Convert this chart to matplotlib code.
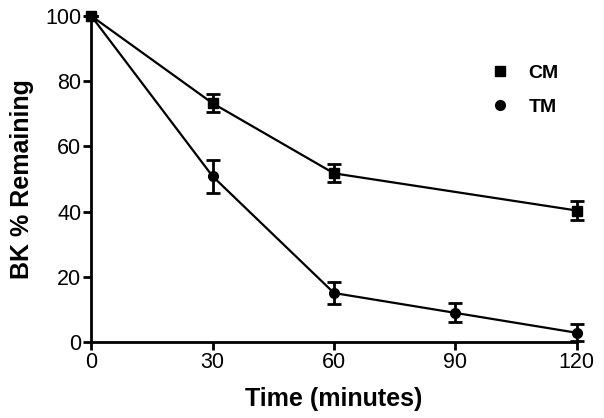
import matplotlib
matplotlib.use("Agg")
import matplotlib.pyplot as plt
from matplotlib.lines import Line2D

plt.rcParams['font.family'] = ['Liberation Sans', 'DejaVu Sans']

cm_t = [0, 30, 60, 120]
cm_y = [100, 73.2, 51.7, 40.3]
cm_e = [0, 2.7, 2.8, 2.8]

tm_t = [0, 30, 60, 90, 120]
tm_y = [100, 50.8, 15.0, 8.9, 2.8]
tm_e = [0, 5.0, 3.3, 2.9, 2.6]

xticks = [0, 30, 60, 90, 120]
yticks = [0, 20, 40, 60, 80, 100]

fig = plt.figure(figsize=(6.04, 4.18), dpi=100)
ax = fig.add_axes([0.151, 0.182, 0.804, 0.780])

ax.errorbar(cm_t, cm_y, yerr=cm_e, color='black', marker='s', markersize=7,
            linewidth=1.6, elinewidth=2, capsize=5, capthick=2, clip_on=False, zorder=3)
ax.errorbar(tm_t, tm_y, yerr=tm_e, color='black', marker='o', markersize=7,
            linewidth=1.6, elinewidth=2, capsize=5, capthick=2, clip_on=False, zorder=3)

ax.set_xlim(0, 120)
ax.set_ylim(0, 100)
ax.set_xticks(xticks)
ax.set_yticks(yticks)
ax.spines['top'].set_visible(False)
ax.spines['right'].set_visible(False)
for s in ['left', 'bottom']:
    ax.spines[s].set_linewidth(2)
ax.tick_params(direction='out', length=6, width=2, labelsize=15.5, pad=1)

ax.set_xlabel('Time (minutes)', fontsize=18, fontweight='bold', labelpad=10)
ax.set_ylabel('BK % Remaining', fontsize=18, fontweight='bold', labelpad=8)

handles = [Line2D([], [], color='black', marker='s', linestyle='none', markersize=7),
           Line2D([], [], color='black', marker='o', linestyle='none', markersize=7)]
leg = ax.legend(handles, ['CM', 'TM'], loc='center left', bbox_to_anchor=(0.806, 0.773),
                borderaxespad=0, frameon=False, prop={'weight': 'bold', 'size': 14},
                handletextpad=0.95, labelspacing=0.85, handlelength=1.0)

fig.savefig('out.png', dpi=100)
